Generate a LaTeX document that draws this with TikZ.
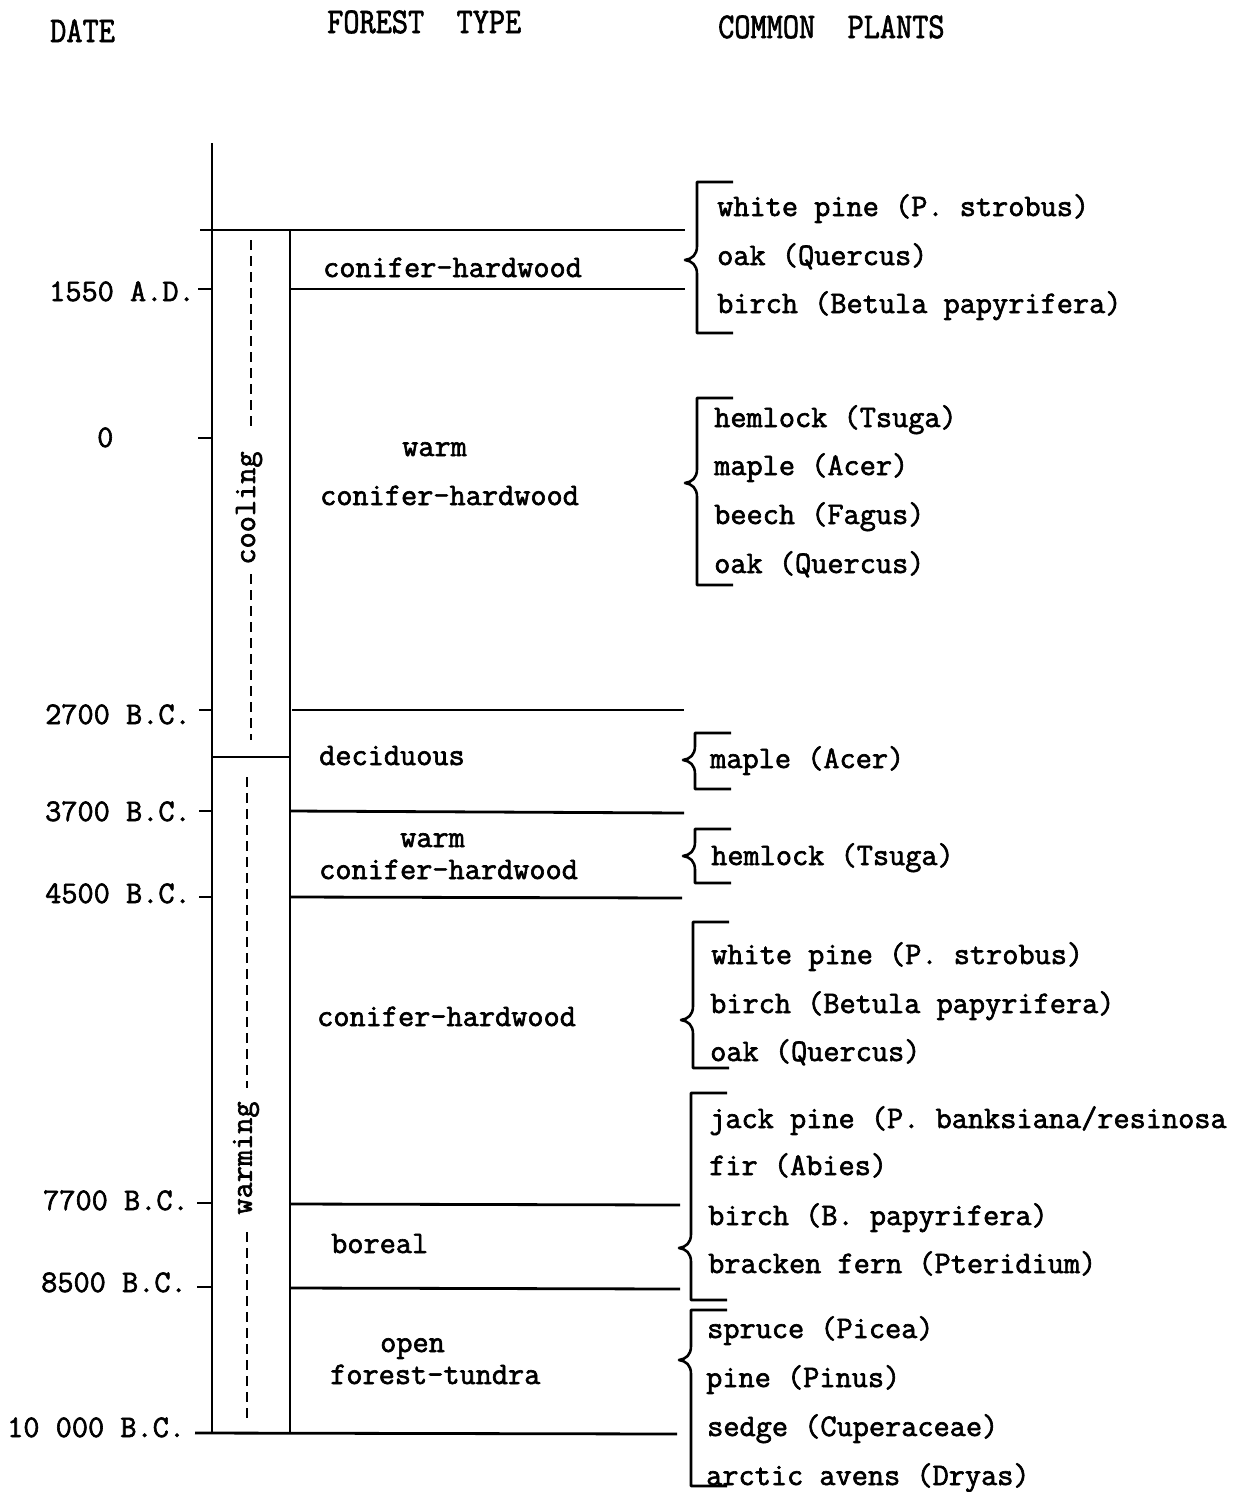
\documentclass[tikz,border=0pt]{standalone}
\usepackage{fontspec}
\setmonofont[FakeBold=2]{Latin Modern Mono}
\newcommand\plantbrace[4]{%
  \draw[bracestyle] (#1+36,#2) -- (#1,#2) -- (#1,#3-14)
    .. controls (#1,#3-5) and (#1-5,#3-1) .. (#1-12,#3)
    .. controls (#1-5,#3+1) and (#1,#3+5) .. (#1,#3+14)
    -- (#1,#4) -- (#1+36,#4);}
\begin{document}
\begin{tikzpicture}[x=1pt,y=-1pt,
  rule/.style={line width=2.8pt},
  bracestyle/.style={line width=2.6pt, line join=round},
  tdash/.style={line width=2.4pt, dash pattern=on 10pt off 6pt},
  txt/.style={font=\ttfamily\fontsize{31.4}{36}\selectfont, inner sep=0pt, anchor=base west},
  head/.style={txt},
  rot/.style={font=\ttfamily\fontsize{31.4}{36}\selectfont, inner sep=0pt, anchor=center, rotate=90}]
\useasboundingbox (0,0) rectangle (1239,1492);

% headers
\node[head] (hdate) at (50,42) {\scalebox{1}[1.15]{DATE}};
\node[head] (hforest) at (327,33) {\scalebox{1}[1.15]{FOREST\ \ TYPE}};
\node[head] (hplants) at (718,38) {\scalebox{1}[1.15]{COMMON\ \ PLANTS}};

% axis and columns
\coordinate (axtop) at (212,143);
\coordinate (axbot) at (212,1433);
\draw[rule] (axtop) -- (axbot);
\draw[rule] (290,230) -- (290,1433);
\draw[rule] (200,230) -- (685,230);
\draw[rule] (198,289) -- (212,289);
\draw[rule] (290,289) -- (685,289);
\draw[rule] (198,438) -- (212,438);
\draw[rule] (199,710) -- (212,710);
\draw[rule] (292,710) -- (684,710);
\draw[rule] (212,757) -- (290,757);
\draw[rule] (199,811) -- (212,811);
\draw[rule] (290,811) -- (684,813);
\draw[rule] (199,897) -- (212,897);
\draw[rule] (290,897) -- (682,898);
\draw[rule] (197,1203) -- (212,1203);
\draw[rule] (290,1204) -- (680,1205);
\draw[rule] (197,1287) -- (212,1287);
\draw[rule] (290,1288) -- (680,1289);
\draw[rule] (195,1433) -- (677,1434);

% cooling / warming
\draw[tdash] (251,240) -- (251,432);
\node[rot] (cool) at (249,508) {cooling};
\draw[tdash] (251,574) -- (251,740);
\draw[tdash] (247,777) -- (247,1088);
\node[rot] (warm) at (246,1158) {warming};
\draw[tdash] (247,1232) -- (247,1420);

% dates
\node[txt] (d1) at (49,301) {1550 A.D.};
\node[txt] (d2) at (97,447) {0};
\node[txt] (d3) at (45,724) {2700 B.C.};
\node[txt] (d4) at (45,821) {3700 B.C.};
\node[txt] (d5) at (45,903) {4500 B.C.};
\node[txt] (d6) at (43,1210) {7700 B.C.};
\node[txt] (d7) at (41,1292) {8500 B.C.};
\node[txt] (d8) at (7,1437) {10 000 B.C.};

% forest types
\node[txt] (f1) at (323,277) {conifer-hardwood};
\node[txt] (f2a) at (402,456) {warm};
\node[txt] (f2b) at (320,505) {conifer-hardwood};
\node[txt] (f3) at (319,765) {deciduous};
\node[txt] (f4a) at (400,847) {warm};
\node[txt] (f4b) at (319,879) {conifer-hardwood};
\node[txt] (f5) at (317,1026) {conifer-hardwood};
\node[txt] (f6) at (331,1253) {boreal};
\node[txt] (f7a) at (380,1352) {open};
\node[txt] (f7b) at (330,1384) {forest-tundra};

% braces
\plantbrace{697}{182}{260}{333}
\plantbrace{697}{398}{483}{585}
\plantbrace{695}{733}{760}{789}
\plantbrace{695}{829}{856}{883}
\plantbrace{693}{922}{1020}{1068}
\plantbrace{691}{1093}{1248}{1300}
\plantbrace{691}{1310}{1360}{1486}

% plants
\node[txt] (p1) at (717,216) {white pine (P. strobus)};
\node[txt] (p2) at (717,265) {oak (Quercus)};
\node[txt] (p3) at (717,313) {birch (Betula papyrifera)};
\node[txt] (p4) at (714,427) {hemlock (Tsuga)};
\node[txt] (p5) at (714,475) {maple (Acer)};
\node[txt] (p6) at (714,524) {beech (Fagus)};
\node[txt] (p7) at (714,573) {oak (Quercus)};
\node[txt] (p8) at (710,768) {maple (Acer)};
\node[txt] (p9) at (711,865) {hemlock (Tsuga)};
\node[txt] (p10) at (711,964) {white pine (P. strobus)};
\node[txt] (p11) at (710,1013) {birch (Betula papyrifera)};
\node[txt] (p12) at (710,1061) {oak (Quercus)};
\node[txt] (p13) at (709,1128) {jack pine (P. banksiana/resinosa};
\node[txt] (p14) at (709,1175) {fir (Abies)};
\node[txt] (p15) at (708,1225) {birch (B. papyrifera)};
\node[txt] (p16) at (708,1273) {bracken fern (Pteridium)};
\node[txt] (p17) at (707,1338) {spruce (Picea)};
\node[txt] (p18) at (706,1387) {pine (Pinus)};
\node[txt] (p19) at (707,1436) {sedge (Cuperaceae)};
\node[txt] (p20) at (706,1485) {arctic avens (Dryas)};
\end{tikzpicture}
\end{document}
